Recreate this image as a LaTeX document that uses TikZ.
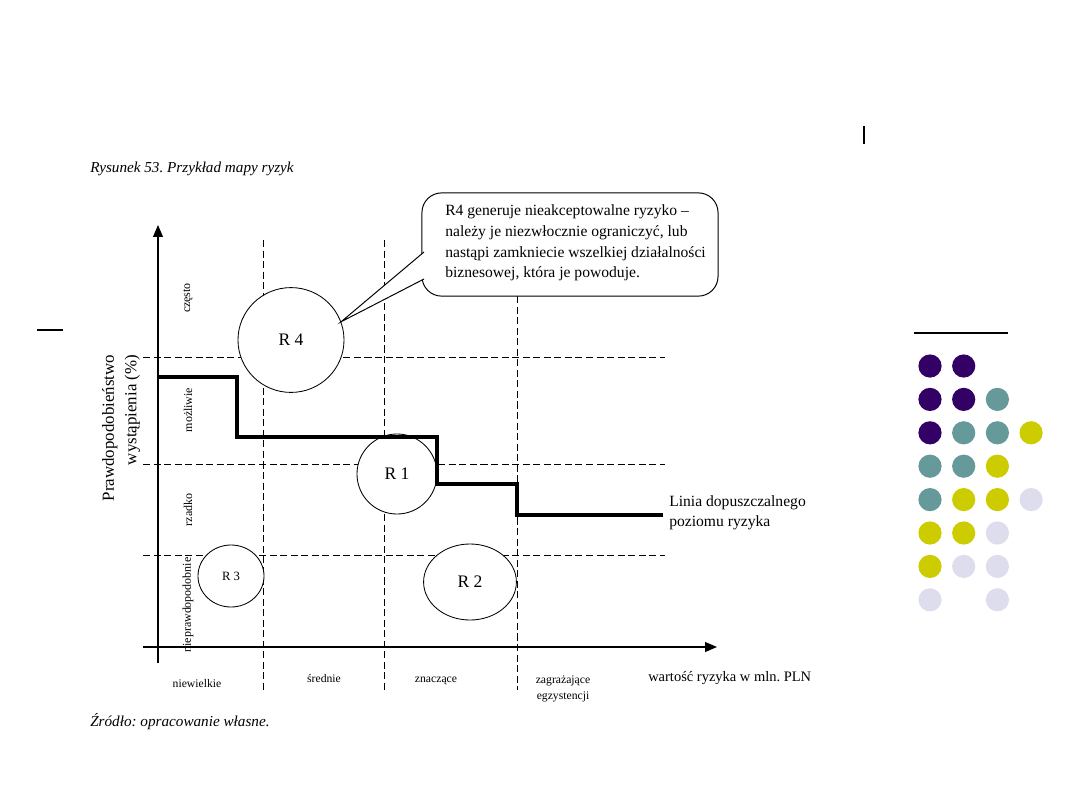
\documentclass[tikz,border=0pt]{standalone}
\usepackage{fontspec}
\setmainfont{Liberation Serif}
\usetikzlibrary{arrows.meta,positioning,shapes.geometric}
\definecolor{dotpurple}{HTML}{330066}
\definecolor{dotteal}{HTML}{669999}
\definecolor{dotyellow}{HTML}{CCCC00}
\definecolor{dotlilac}{HTML}{DDDDEE}
\frenchspacing
\tikzset{
  axis/.style={-{Triangle[length=8.5pt,width=7pt]},line width=1pt},
  gridline/.style={dash pattern=on 5pt off 2.5pt,line width=0.6pt},
  limit/.style={line width=2.4pt},
  risk/.style={ellipse,draw,fill=white,line width=0.6pt,inner sep=0pt,
    font=\fontsize{12.5}{14}\selectfont},
  cat/.style={rotate=90,font=\fontsize{8.5}{10}\selectfont,inner sep=0pt},
  xlab/.style={font=\fontsize{8.3}{11}\selectfont,align=center,inner sep=0pt,anchor=base},
  bubble/.style={draw,rounded corners=14pt,line width=0.7pt,
    minimum width=7.4cm,minimum height=2.58cm},
  note/.style={font=\fontsize{11.1}{14.8}\selectfont,align=left,inner sep=0pt},
  caption/.style={font=\fontsize{10.8}{13}\selectfont\itshape,inner sep=0pt},
}

\begin{document}
\begin{tikzpicture}[x=0.025cm,y=-0.025cm]
  \useasboundingbox (0,0) rectangle (1080,810);
  % slide decoration
  \draw[line width=1pt] (37,330) -- (63,330);
  \draw[line width=1pt] (914,333) -- (1008,333);
  \draw[line width=2pt] (864,126) -- (864,144);
  \foreach \row/\cols [count=\r from 0] in {
      a/{dotpurple,dotpurple},
      b/{dotpurple,dotpurple,dotteal},
      c/{dotpurple,dotteal,dotteal,dotyellow},
      d/{dotteal,dotteal,dotyellow},
      e/{dotteal,dotyellow,dotyellow,dotlilac},
      f/{dotyellow,dotyellow,dotlilac},
      g/{dotyellow,dotlilac,dotlilac},
      h/{dotlilac,none,dotlilac}}
    \foreach \c [count=\k from 0] in \cols
      \path[fill=\c] (930+33.7*\k,366+33.4*\r) circle (0.29cm);

  \node[caption,anchor=west] (title) at (90,169) {Rysunek 53. Przykład mapy ryzyk};
  \node[caption,anchor=west] (source) at (90,722) {Źródło: opracowanie własne.};

  % grid of the map
  \foreach \y in {357,464,555}
    \draw[gridline] (143,\y) -- (665,\y);
  \draw[gridline] (263,240) -- (263,690);
  \draw[gridline] (384,240) -- (384,690);
  \draw[gridline] (517,296) -- (517,690);

  \draw[axis] (158,663) -- (158,225);
  \draw[axis] (143,647) -- (717,647);

  \node[risk,minimum width=2.65cm,minimum height=2.62cm] (R4) at (291,340) {R 4};
  \node[risk,minimum width=2cm,minimum height=2cm] (R1) at (397,474) {R 1};
  \node[risk,minimum width=1.65cm,minimum height=1.55cm,
    font=\fontsize{9}{10}\selectfont] (R3) at (231,576) {R 3};
  \node[risk,minimum width=2.32cm,minimum height=1.9cm] (R2) at (470,582) {R 2};

  \draw[limit] (158,377) -- (237,377) -- (237,437) -- (437,437)
    -- (437,484) -- (517,484) -- (517,515) -- (663,515);

  \node[cat] (czesto) at (188,298) {często};
  \node[cat] (mozliwie) at (188,410) {możliwie};
  \node[cat] (rzadko) at (188,510) {rzadko};
  \node[cat] (nieprawd) at (188,605) {nieprawdopodobnie};
  \node[rotate=90,align=right,font=\fontsize{12}{16}\selectfont,inner sep=0pt]
    (ytitle) at (121,428) {Prawdopodobieństwo\\wystąpienia (\%)};

  \node[xlab] (niewielkie) at (197,687) {niewielkie};
  \node[xlab] (srednie) at (324,682) {średnie};
  \node[xlab] (znaczace) at (436,682) {znaczące};
  \node[xlab] (zagrazajace) at (563,699) {zagrażające\\egzystencji};
  \node[xlab,font=\fontsize{10.3}{12}\selectfont,anchor=base west] (xtitle) at (648,681)
    {wartość ryzyka w mln. PLN};
  \node[note,anchor=west,font=\fontsize{11.1}{14.2}\selectfont] (limitlab) at (669,513)
    {Linia dopuszczalnego\\poziomu ryzyka};

  % callout for R4
  \node[bubble,fill=white] (callout) at (570,244.5) {};
  \coordinate (tailA) at (424,252);
  \coordinate (tailB) at (424,279);
  \fill[white] (tailA) -- (R4.20) -- (tailB) -- cycle;
  \draw[line width=0.7pt] (tailA) -- (R4.20) -- (tailB);
  \node[note,anchor=west] (calloutText) at (445,243)
    {R4 generuje nieakceptowalne ryzyko –\\należy je niezwłocznie ograniczyć, lub\\nastąpi zamkniecie wszelkiej działalności\\biznesowej, która je powoduje.};
\end{tikzpicture}
\end{document}
